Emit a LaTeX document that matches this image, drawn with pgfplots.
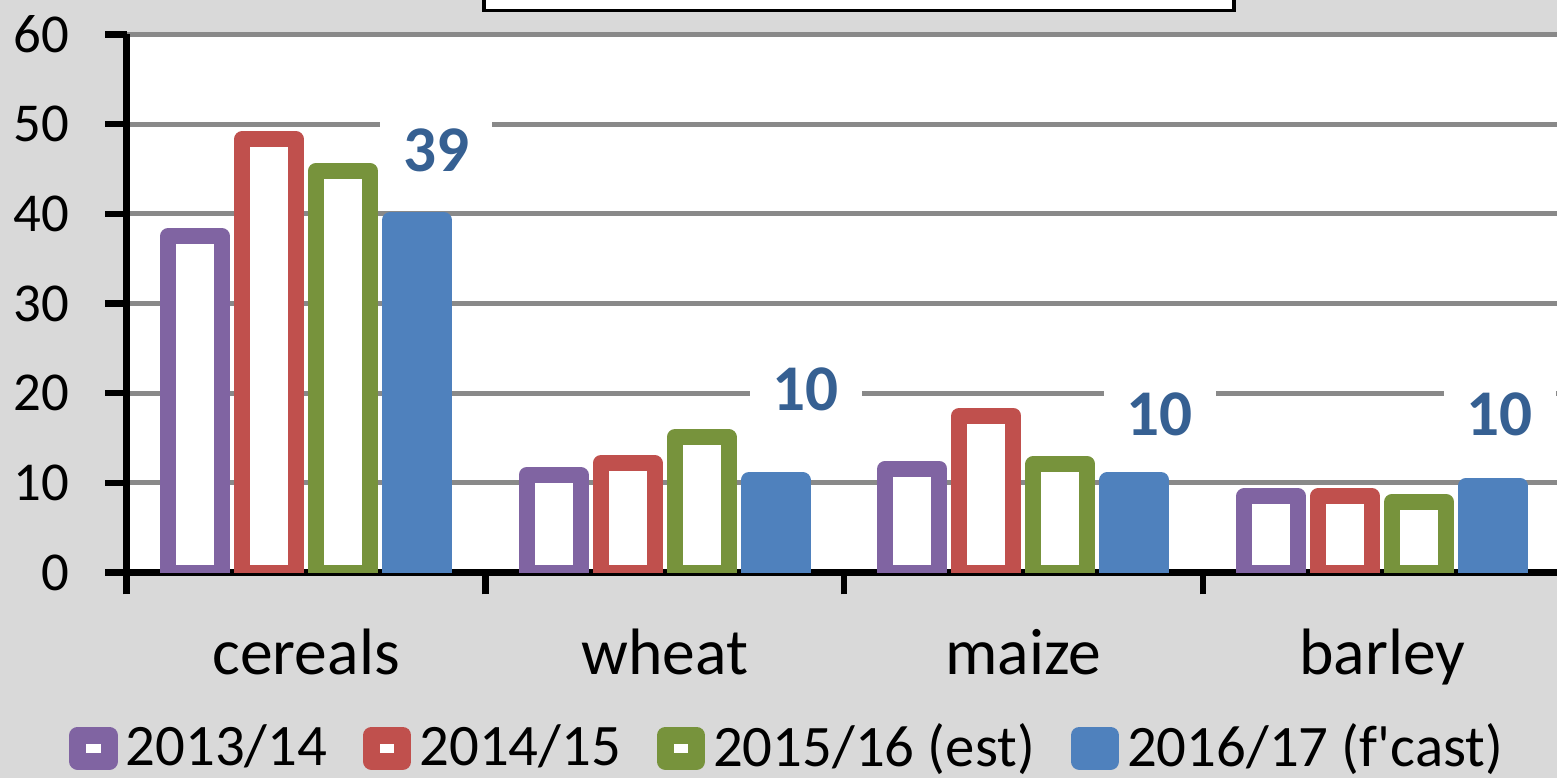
\documentclass[border=0pt]{standalone}
\usepackage{pgfplots}
\pgfplotsset{compat=1.18}
\usepackage{fontspec}
\setmainfont{Carlito}
\newfontfamily\plainfont{Carlito}
\definecolor{bgc}{HTML}{D9D9D9}
\definecolor{gridc}{HTML}{898989}
\definecolor{cpurple}{HTML}{8064A2}
\definecolor{cred}{HTML}{C0504D}
\definecolor{cgreen}{HTML}{77933C}
\definecolor{cblue}{HTML}{4F81BD}
\definecolor{lblue}{HTML}{366092}
\pgfplotsset{mylegend/.style={legend image code/.code={\draw[##1, line width=4.25pt, line join=round] (0pt,-3.3pt) rectangle (7.8pt,3.3pt);}}}
\begin{document}
\begin{tikzpicture}
\clip (-31.675pt,-51.325pt) rectangle (357.575pt,143.175pt);
\fill[bgc] (-31.675pt,-51.325pt) rectangle (357.575pt,143.175pt);
\begin{axis}[
  at={(0,0)}, anchor=south west,
  scale only axis, width=358.7pt, height=134.55pt,
  xmin=-0.5, xmax=3.5, ymin=0, ymax=60,
  axis x line=bottom, axis y line=left,
  axis line style={-, black, line width=1.6pt},
  axis background/.style={fill=white},
  ytick={0,10,...,60},
  ymajorgrids, grid style={gridc, line width=1.25pt},
  tick align=outside, major tick length=5.4pt,
  tick style={black, line width=1.6pt},
  xtick={-0.5,0.5,1.5,2.5,3.5}, xticklabels={},
  extra x ticks={0,1,2,3},
  extra x tick labels={cereals,wheat,maize,barley},
  extra x tick style={major tick length=0pt, tick style={draw=none}},
  xticklabel style={font=\fontsize{16.4}{19}\selectfont, anchor=base, yshift=-25.5pt},
  yticklabel style={font=\fontsize{13.7}{16}\selectfont, xshift=-5.4pt},
  /pgf/number format/assume math mode=true,
  legend columns=4,
  legend style={at={(0.4625,-0.3263)}, anchor=center, draw=none, fill=none,
    font=\fontsize{14.7}{17}\selectfont,
    /tikz/every even column/.append style={column sep=7pt}},
]
\addplot[ybar, bar width=13.5pt, bar shift=-27.75pt, draw=cpurple, fill=white, line width=4pt, line join=round, mylegend]
  coordinates {(0,37.5) (1,10.9) (2,11.6) (3,8.5)};
\addlegendentry{2013/14}
\addplot[ybar, bar width=13.5pt, bar shift=-9.25pt, draw=cred, fill=white, line width=4pt, line join=round, mylegend]
  coordinates {(0,48.3) (1,12.2) (2,17.5) (3,8.5)};
\addlegendentry{2014/15}
\addplot[ybar, bar width=13.5pt, bar shift=9.25pt, draw=cgreen, fill=white, line width=4pt, line join=round, mylegend]
  coordinates {(0,44.8) (1,15.1) (2,12.1) (3,7.9)};
\addlegendentry{2015/16 (est)}
\addplot[ybar, bar width=13.5pt, bar shift=27.75pt, draw=cblue, fill=cblue, line width=4pt, line join=round, mylegend]
  coordinates {(0,39.3) (1,10.3) (2,10.3) (3,9.7)};
\addlegendentry{2016/17 (f{\plainfont '}cast)}
\addplot[draw=none, mark=none, forget plot, nodes near coords, point meta=explicit symbolic,
  nodes near coords style={anchor=center, fill=white, text=lblue, font=\bfseries\fontsize{16.3}{19}\selectfont, inner xsep=5.75pt, inner ysep=3pt}]
  coordinates {(0.363,47.1)[39] (1.393,20.4)[10] (2.380,17.6)[10] (3.328,17.7)[10]};
\end{axis}
\draw[black, line width=0.9pt, fill=white] (89.3pt,140.55pt) rectangle (276.8pt,150pt);
\end{tikzpicture}
\end{document}
